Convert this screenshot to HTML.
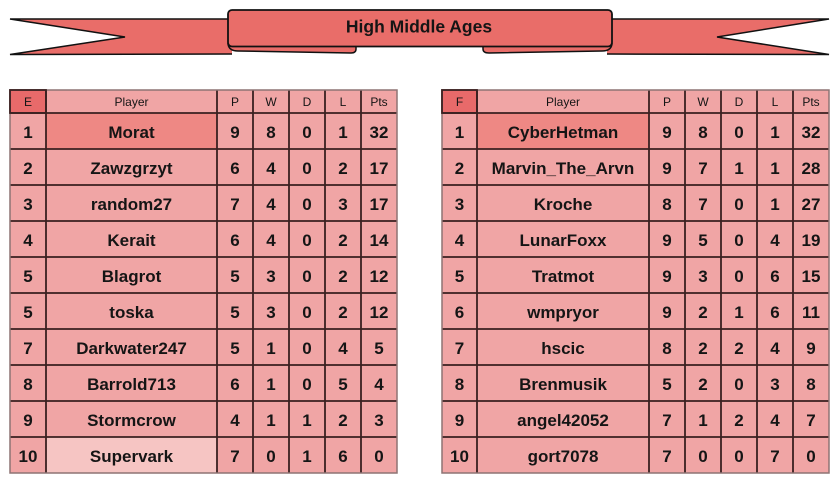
<!DOCTYPE html>
<html><head><meta charset="utf-8"><style>
html,body{margin:0;padding:0;background:#fff;}
svg{display:block;}
text{font-family:"Liberation Sans",Arial,sans-serif;fill:#151515;}
.t{font-size:17.5px;font-weight:bold;}
.h{font-size:12px;}
.c{font-size:17px;font-weight:bold;}
</style></head><body>
<svg width="839" height="484" viewBox="0 0 839 484" xmlns="http://www.w3.org/2000/svg">
<rect width="839" height="484" fill="#fff"/>
<!-- banner tails -->
<path d="M232,19 L10,19 L125,37 L10,54.5 L232,54 Z" fill="#e96d69" stroke="none"/>
<path d="M232,19 L10,19 L125,37 L10,54.5 L232,54" fill="none" stroke="#111" stroke-width="1.5"/>
<path d="M607,19 L829,19 L717,37 L829,54.5 L607,54 Z" fill="#e96d69" stroke="none"/>
<path d="M607,19 L829,19 L717,37 L829,54.5 L607,54" fill="none" stroke="#111" stroke-width="1.5"/>
<!-- folds -->
<path d="M228,44 Q229,51 238,51 L351,53 Q356,53 356,49 L356,45 Z" fill="#e96d69" stroke="#111" stroke-width="1.5"/>
<path d="M612,44 Q611,51 602,51 L489,53 Q483,53 483,49 L483,45 Z" fill="#e96d69" stroke="#111" stroke-width="1.5"/>
<!-- front ribbon -->
<rect x="228" y="10" width="384" height="36.5" rx="4" fill="#e96d69" stroke="#111" stroke-width="1.8"/>
<text class="t" x="419" y="32.5" text-anchor="middle">High Middle Ages</text>

<!-- LEFT TABLE -->
<rect x="10" y="90" width="387" height="383" fill="#f0a5a5"/>
<rect x="10" y="90" width="36" height="23" fill="#e86a6a"/>
<rect x="46" y="113" width="171" height="36" fill="#ee8884"/>
<rect x="46" y="437" width="171" height="36" fill="#f6c5c3"/>
<g stroke="#3a2020" stroke-width="1.8">
<line x1="46" y1="90" x2="46" y2="473"/><line x1="217" y1="90" x2="217" y2="473"/>
<line x1="253" y1="90" x2="253" y2="473"/><line x1="289" y1="90" x2="289" y2="473"/>
<line x1="325" y1="90" x2="325" y2="473"/><line x1="361" y1="90" x2="361" y2="473"/>
<line x1="10" y1="113" x2="397" y2="113"/><line x1="10" y1="149" x2="397" y2="149"/>
<line x1="10" y1="185" x2="397" y2="185"/><line x1="10" y1="221" x2="397" y2="221"/>
<line x1="10" y1="257" x2="397" y2="257"/><line x1="10" y1="293" x2="397" y2="293"/>
<line x1="10" y1="329" x2="397" y2="329"/><line x1="10" y1="365" x2="397" y2="365"/>
<line x1="10" y1="401" x2="397" y2="401"/><line x1="10" y1="437" x2="397" y2="437"/>
</g>
<rect x="10" y="90" width="387" height="383" fill="none" stroke="#8e7474" stroke-width="1.5"/>
<rect x="10" y="90" width="36" height="23" fill="none" stroke="#3a2020" stroke-width="1.8"/>
<g text-anchor="middle">
<text class="h" x="28" y="106">E</text><text class="h" x="131.5" y="106">Player</text>
<text class="h" x="235" y="106">P</text><text class="h" x="271" y="106">W</text>
<text class="h" x="307" y="106">D</text><text class="h" x="343" y="106">L</text><text class="h" x="379" y="106">Pts</text>
</g>
<g text-anchor="middle">
<text class="c" x="28" y="138">1</text><text class="c" x="131.5" y="138">Morat</text><text class="c" x="235" y="138">9</text><text class="c" x="271" y="138">8</text><text class="c" x="307" y="138">0</text><text class="c" x="343" y="138">1</text><text class="c" x="379" y="138">32</text>
<text class="c" x="28" y="174">2</text><text class="c" x="131.5" y="174">Zawzgrzyt</text><text class="c" x="235" y="174">6</text><text class="c" x="271" y="174">4</text><text class="c" x="307" y="174">0</text><text class="c" x="343" y="174">2</text><text class="c" x="379" y="174">17</text>
<text class="c" x="28" y="210">3</text><text class="c" x="131.5" y="210">random27</text><text class="c" x="235" y="210">7</text><text class="c" x="271" y="210">4</text><text class="c" x="307" y="210">0</text><text class="c" x="343" y="210">3</text><text class="c" x="379" y="210">17</text>
<text class="c" x="28" y="246">4</text><text class="c" x="131.5" y="246">Kerait</text><text class="c" x="235" y="246">6</text><text class="c" x="271" y="246">4</text><text class="c" x="307" y="246">0</text><text class="c" x="343" y="246">2</text><text class="c" x="379" y="246">14</text>
<text class="c" x="28" y="282">5</text><text class="c" x="131.5" y="282">Blagrot</text><text class="c" x="235" y="282">5</text><text class="c" x="271" y="282">3</text><text class="c" x="307" y="282">0</text><text class="c" x="343" y="282">2</text><text class="c" x="379" y="282">12</text>
<text class="c" x="28" y="318">5</text><text class="c" x="131.5" y="318">toska</text><text class="c" x="235" y="318">5</text><text class="c" x="271" y="318">3</text><text class="c" x="307" y="318">0</text><text class="c" x="343" y="318">2</text><text class="c" x="379" y="318">12</text>
<text class="c" x="28" y="354">7</text><text class="c" x="131.5" y="354">Darkwater247</text><text class="c" x="235" y="354">5</text><text class="c" x="271" y="354">1</text><text class="c" x="307" y="354">0</text><text class="c" x="343" y="354">4</text><text class="c" x="379" y="354">5</text>
<text class="c" x="28" y="390">8</text><text class="c" x="131.5" y="390">Barrold713</text><text class="c" x="235" y="390">6</text><text class="c" x="271" y="390">1</text><text class="c" x="307" y="390">0</text><text class="c" x="343" y="390">5</text><text class="c" x="379" y="390">4</text>
<text class="c" x="28" y="426">9</text><text class="c" x="131.5" y="426">Stormcrow</text><text class="c" x="235" y="426">4</text><text class="c" x="271" y="426">1</text><text class="c" x="307" y="426">1</text><text class="c" x="343" y="426">2</text><text class="c" x="379" y="426">3</text>
<text class="c" x="28" y="462">10</text><text class="c" x="131.5" y="462">Supervark</text><text class="c" x="235" y="462">7</text><text class="c" x="271" y="462">0</text><text class="c" x="307" y="462">1</text><text class="c" x="343" y="462">6</text><text class="c" x="379" y="462">0</text>
</g>

<!-- RIGHT TABLE -->
<rect x="442" y="90" width="387" height="383" fill="#f0a5a5"/>
<rect x="442" y="90" width="35" height="23" fill="#e86a6a"/>
<rect x="477" y="113" width="172" height="36" fill="#ee8884"/>
<g stroke="#3a2020" stroke-width="1.8">
<line x1="477" y1="90" x2="477" y2="473"/><line x1="649" y1="90" x2="649" y2="473"/>
<line x1="685" y1="90" x2="685" y2="473"/><line x1="721" y1="90" x2="721" y2="473"/>
<line x1="757" y1="90" x2="757" y2="473"/><line x1="793" y1="90" x2="793" y2="473"/>
<line x1="442" y1="113" x2="829" y2="113"/><line x1="442" y1="149" x2="829" y2="149"/>
<line x1="442" y1="185" x2="829" y2="185"/><line x1="442" y1="221" x2="829" y2="221"/>
<line x1="442" y1="257" x2="829" y2="257"/><line x1="442" y1="293" x2="829" y2="293"/>
<line x1="442" y1="329" x2="829" y2="329"/><line x1="442" y1="365" x2="829" y2="365"/>
<line x1="442" y1="401" x2="829" y2="401"/><line x1="442" y1="437" x2="829" y2="437"/>
</g>
<rect x="442" y="90" width="387" height="383" fill="none" stroke="#8e7474" stroke-width="1.5"/>
<rect x="442" y="90" width="35" height="23" fill="none" stroke="#3a2020" stroke-width="1.8"/>
<g text-anchor="middle">
<text class="h" x="459.5" y="106">F</text><text class="h" x="563" y="106">Player</text>
<text class="h" x="667" y="106">P</text><text class="h" x="703" y="106">W</text>
<text class="h" x="739" y="106">D</text><text class="h" x="775" y="106">L</text><text class="h" x="811" y="106">Pts</text>
</g>
<g text-anchor="middle">
<text class="c" x="459.5" y="138">1</text><text class="c" x="563" y="138">CyberHetman</text><text class="c" x="667" y="138">9</text><text class="c" x="703" y="138">8</text><text class="c" x="739" y="138">0</text><text class="c" x="775" y="138">1</text><text class="c" x="811" y="138">32</text>
<text class="c" x="459.5" y="174">2</text><text class="c" x="563" y="174">Marvin_The_Arvn</text><text class="c" x="667" y="174">9</text><text class="c" x="703" y="174">7</text><text class="c" x="739" y="174">1</text><text class="c" x="775" y="174">1</text><text class="c" x="811" y="174">28</text>
<text class="c" x="459.5" y="210">3</text><text class="c" x="563" y="210">Kroche</text><text class="c" x="667" y="210">8</text><text class="c" x="703" y="210">7</text><text class="c" x="739" y="210">0</text><text class="c" x="775" y="210">1</text><text class="c" x="811" y="210">27</text>
<text class="c" x="459.5" y="246">4</text><text class="c" x="563" y="246">LunarFoxx</text><text class="c" x="667" y="246">9</text><text class="c" x="703" y="246">5</text><text class="c" x="739" y="246">0</text><text class="c" x="775" y="246">4</text><text class="c" x="811" y="246">19</text>
<text class="c" x="459.5" y="282">5</text><text class="c" x="563" y="282">Tratmot</text><text class="c" x="667" y="282">9</text><text class="c" x="703" y="282">3</text><text class="c" x="739" y="282">0</text><text class="c" x="775" y="282">6</text><text class="c" x="811" y="282">15</text>
<text class="c" x="459.5" y="318">6</text><text class="c" x="563" y="318">wmpryor</text><text class="c" x="667" y="318">9</text><text class="c" x="703" y="318">2</text><text class="c" x="739" y="318">1</text><text class="c" x="775" y="318">6</text><text class="c" x="811" y="318">11</text>
<text class="c" x="459.5" y="354">7</text><text class="c" x="563" y="354">hscic</text><text class="c" x="667" y="354">8</text><text class="c" x="703" y="354">2</text><text class="c" x="739" y="354">2</text><text class="c" x="775" y="354">4</text><text class="c" x="811" y="354">9</text>
<text class="c" x="459.5" y="390">8</text><text class="c" x="563" y="390">Brenmusik</text><text class="c" x="667" y="390">5</text><text class="c" x="703" y="390">2</text><text class="c" x="739" y="390">0</text><text class="c" x="775" y="390">3</text><text class="c" x="811" y="390">8</text>
<text class="c" x="459.5" y="426">9</text><text class="c" x="563" y="426">angel42052</text><text class="c" x="667" y="426">7</text><text class="c" x="703" y="426">1</text><text class="c" x="739" y="426">2</text><text class="c" x="775" y="426">4</text><text class="c" x="811" y="426">7</text>
<text class="c" x="459.5" y="462">10</text><text class="c" x="563" y="462">gort7078</text><text class="c" x="667" y="462">7</text><text class="c" x="703" y="462">0</text><text class="c" x="739" y="462">0</text><text class="c" x="775" y="462">7</text><text class="c" x="811" y="462">0</text>
</g>
</svg>
</body></html>
